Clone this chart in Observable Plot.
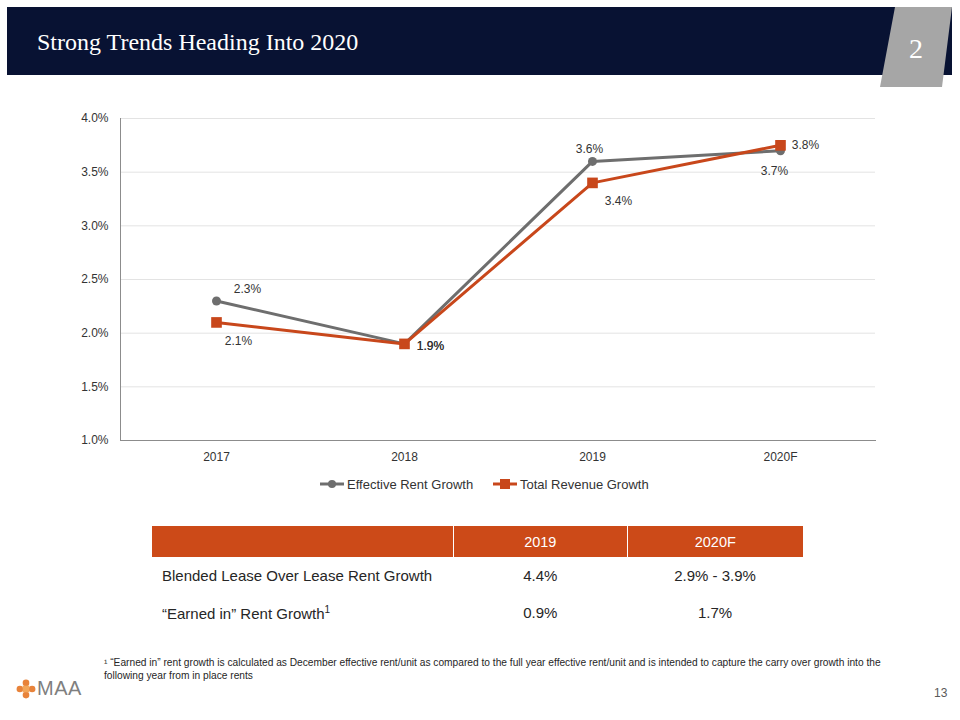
<!DOCTYPE html>
<html>
<head>
<meta charset="utf-8">
<script src="https://cdn.jsdelivr.net/npm/d3@7"></script>
<script src="https://cdn.jsdelivr.net/npm/@observablehq/plot@0.6"></script>
<style>
  html, body { margin: 0; padding: 0; background: #fff; }
  #page { position: relative; width: 960px; height: 720px; overflow: hidden; font-family: "Liberation Sans", Arial, sans-serif; }
  .abs { position: absolute; }
  #header { left: 7px; top: 7px; width: 945px; height: 68px; background: #081233; }
  #title { left: 37px; top: 29px; font-family: "Liberation Serif", "Times New Roman", serif; font-size: 24px; color: #fff; white-space: nowrap; }
  #chart { left: 0; top: 100px; }
  #legend { left: 0; top: 475px; width: 960px; font-family: "Liberation Sans Narrow", "Liberation Sans", Arial, sans-serif; font-size: 13px; color: #333; }
  .leg { position: absolute; top: 0; display: flex; align-items: center; white-space: nowrap; }
  table { border-collapse: collapse; font-family: "Liberation Sans Narrow", "Liberation Sans", Arial, sans-serif; font-size: 15px; color: #262626; }
  #tbl { left: 152px; top: 526px; width: 651px; }
  #tbl th { background: #CC4A18; color: #fff; font-weight: normal; height: 31px; padding: 0; font-size: 14.5px; }
  #tbl th + th { border-left: 1px solid #fff; }
  #tbl td { height: 37px; padding: 0; }
  #foot { left: 104px; top: 656px; width: 800px; font-family: "Liberation Sans Narrow", "Liberation Sans", Arial, sans-serif; font-size: 10.2px; line-height: 13px; color: #262626; }
  #pnum { left: 934px; top: 686px; font-size: 12px; color: #595959; }
  #logo { left: 16px; top: 677px; display: flex; align-items: center; }
</style>
</head>
<body>
<div id="page">
  <div id="header" class="abs"></div>
  <svg class="abs" style="left:0;top:0" width="960" height="95">
    <polygon points="895,7 952,7 942,87 880,87" fill="#A6A6A6"></polygon>
    <text x="916" y="58" fill="#fff" font-family="Liberation Serif, Times New Roman, serif" font-size="28" text-anchor="middle">2</text>
  </svg>
  <div id="title" class="abs">Strong Trends Heading Into 2020</div>
  <div id="chart" class="abs"></div>
  <div id="legend" class="abs"></div>
  <div id="tbl" class="abs"></div>
  <div id="foot" class="abs">¹ “Earned in” rent growth is calculated as December effective rent/unit as compared to the full year effective rent/unit and is intended to capture the carry over growth into the following year from in place rents</div>
  <div id="logo" class="abs">
    <svg width="20" height="20" viewBox="0 0 18 18">
      <g fill="#E8833A">
        <circle cx="9" cy="3.5" r="3"></circle><circle cx="9" cy="14.5" r="3"></circle>
        <circle cx="3.5" cy="9" r="3"></circle><circle cx="14.5" cy="9" r="3"></circle>
        <rect x="6" y="6" width="6" height="6" fill="#F2A65A"></rect>
      </g>
    </svg>
    <span style="font-size:20px;color:#7f7f7f;margin-left:1px;letter-spacing:0.5px">MAA</span>
  </div>
  <div id="pnum" class="abs">13</div>
</div>
<script>
// ---- data ----
const years = ["2017", "2018", "2019", "2020F"];
const effectiveRentGrowth = [2.3, 1.9, 3.6, 3.7];
const totalRevenueGrowth = [2.1, 1.9, 3.4, 3.75];
const seriesNames = ["Effective Rent Growth", "Total Revenue Growth"];
const yTicks = [1.0, 1.5, 2.0, 2.5, 3.0, 3.5, 4.0];
const tableHeaders = ["", "2019", "2020F"];
const tableRowLabels = ["Blended Lease Over Lease Rent Growth", "“Earned in” Rent Growth"];
const tableCol2019 = ["4.4%", "0.9%"];
const tableCol2020F = ["2.9% - 3.9%", "1.7%"];

// ---- styles (not data) ----
const colors = {"Effective Rent Growth": "#6E6E6E", "Total Revenue Growth": "#C8471B"};
const labelOffsets = {
  "Effective Rent Growth": [[31, -12], [26, 2], [-3, -12], [-6, 20]],
  "Total Revenue Growth": [[22, 19], [26, 2], [26, 18], [25, 0]]
};

const rows = [];
years.forEach((yr, i) => {
  rows.push({year: yr, series: seriesNames[0], value: effectiveRentGrowth[i], i});
  rows.push({year: yr, series: seriesNames[1], value: totalRevenueGrowth[i], i});
});
const fmt = v => v.toFixed(1) + "%";

const labelMarks = rows.map(d => Plot.text([d], {
  x: "year", y: "value", text: r => fmt(r.value),
  dx: labelOffsets[d.series][d.i][0], dy: labelOffsets[d.series][d.i][1],
  fill: "#333", fontSize: 12, textAnchor: "middle"
}));

const eff = rows.filter(d => d.series === seriesNames[0]);
const tot = rows.filter(d => d.series === seriesNames[1]);

const chart = Plot.plot({
  width: 960,
  height: 370,
  marginLeft: 120,
  marginRight: 85,
  marginTop: 18,
  marginBottom: 30,
  style: {background: "transparent", fontFamily: "Liberation Sans, Arial, sans-serif", fontSize: "12px", color: "#333"},
  x: {type: "band", domain: years, padding: 0, label: null},
  y: {domain: [1, 4], label: null},
  marks: [
    Plot.gridY(yTicks, {stroke: "#E3E3E3", strokeOpacity: 1}),
    Plot.axisY(yTicks, {tickSize: 0, tickPadding: 12, tickFormat: fmt, fontSize: 12, fill: "#333"}),
    Plot.axisX({tickSize: 0, tickPadding: 12, fontSize: 12, fill: "#333"}),
    Plot.frame({anchor: "left", stroke: "#8C8C8C"}),
    Plot.frame({anchor: "bottom", stroke: "#8C8C8C"}),
    Plot.line(eff, {x: "year", y: "value", stroke: colors[seriesNames[0]], strokeWidth: 3}),
    Plot.line(tot, {x: "year", y: "value", stroke: colors[seriesNames[1]], strokeWidth: 3}),
    Plot.dot(eff, {x: "year", y: "value", r: 4.5, fill: colors[seriesNames[0]], symbol: "circle"}),
    Plot.dot(tot, {x: "year", y: "value", r: 6, fill: colors[seriesNames[1]], symbol: "square"}),
    ...labelMarks
  ]
});
document.getElementById("chart").appendChild(chart);

// legend
const legend = document.getElementById("legend");
const legendLefts = [320, 493];
seriesNames.forEach((name, k) => {
  const item = document.createElement("div");
  item.className = "leg";
  item.style.left = legendLefts[k] + "px";
  const c = colors[name];
  const marker = k === 0
    ? `<circle cx="12" cy="9" r="4" fill="${c}"></circle>`
    : `<rect x="7" y="4" width="10" height="10" fill="${c}"></rect>`;
  item.innerHTML = `<svg width="24" height="18"><line x1="0" x2="24" y1="9" y2="9" stroke="${c}" stroke-width="3"></line>${marker}</svg><span style="margin-left:3px">${name}</span>`;
  legend.appendChild(item);
});

// table
const t = document.createElement("table");
t.style.width = "651px";
let html = "<tr>" + tableHeaders.map((h, j) => `<th style="width:${[302, 173, 176][j]}px">${h}</th>`).join("") + "</tr>";
tableRowLabels.forEach((lab, r) => {
  const sup = r === 1 ? "<sup style='font-size:10px'>1</sup>" : "";
  html += `<tr><td style="padding-left:10px">${lab}${sup}</td><td style="text-align:center">${tableCol2019[r]}</td><td style="text-align:center">${tableCol2020F[r]}</td></tr>`;
});
t.innerHTML = html;
document.getElementById("tbl").appendChild(t);
</script>
</body>
</html>
